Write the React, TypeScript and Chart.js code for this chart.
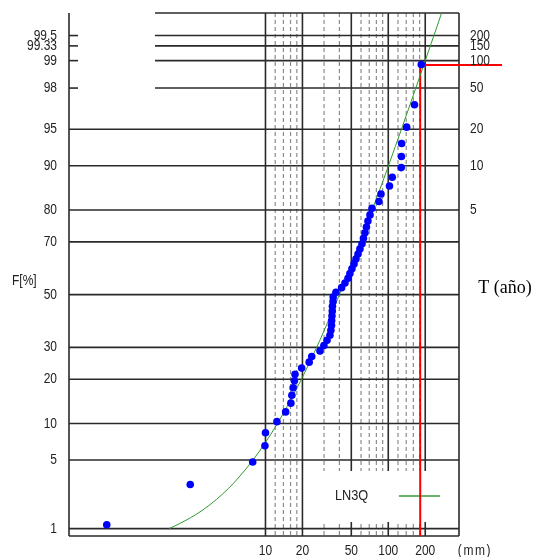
import { useEffect, useRef } from "react";
import { Chart, registerables } from "chart.js";
Chart.register(...registerables);

// Observed sample (mm) sorted, with plotted non-exceedance probability F [%]
const sampleMm = [0.51, 2.44, 7.87, 9.9, 10.0, 12.4, 14.6, 16.1, 16.4, 16.8, 17.2, 17.4, 19.7, 22.7, 23.8, 27.8, 29.9, 31.7, 33.5, 34.1, 34.5, 34.6, 34.8, 35.0, 35.1, 35.5, 35.6, 37.5, 41.7, 44.4, 47.0, 48.7, 50.6, 52.6, 54.6, 56.7, 58.8, 61.1, 62.8, 64.6, 66.4, 68.3, 71.0, 73.7, 84.0, 87.2, 102.3, 107.8, 127.5, 128.0, 128.5, 141.2, 163.5, 185.7];
const sampleF = [1.107, 2.952, 4.797, 6.642, 8.487, 10.332, 12.177, 14.022, 15.867, 17.712, 19.557, 21.402, 23.247, 25.092, 26.937, 28.782, 30.627, 32.472, 34.317, 36.162, 38.007, 39.852, 41.697, 43.542, 45.387, 47.232, 49.077, 50.923, 52.768, 54.613, 56.458, 58.303, 60.148, 61.993, 63.838, 65.683, 67.528, 69.373, 71.218, 73.063, 74.908, 76.753, 78.598, 80.443, 82.288, 84.133, 85.978, 87.823, 89.668, 91.513, 93.358, 95.203, 97.048, 98.893];

// LN3Q fitted curve
const curveMm = [1.64, 2, 3, 4, 5, 6, 8, 10, 12, 15, 20, 25, 30, 40, 50, 60, 80, 100, 130, 160, 200, 250, 280];
const curveF = [1.0, 1.14, 1.57, 2.09, 2.7, 3.41, 5.08, 7.08, 9.37, 13.27, 20.56, 28.29, 35.96, 50.0, 61.59, 70.68, 82.92, 89.91, 95.23, 97.63, 99.0, 99.62, 99.78];

// Axis ticks
const probTicks = [1, 5, 10, 20, 30, 50, 70, 80, 90, 95, 98, 99, 99.33, 99.5];
const probLabels = ["1", "5", "10", "20", "30", "50", "70", "80", "90", "95", "98", "99", "99.33", "99.5"];
const partialProb = [98, 99, 99.33, 99.5];
const returnPeriods = ["200", "150", "100", "50", "20", "10", "5"];
const returnF = [99.5, 99.33, 99, 98, 95, 90, 80];
const xMajor = [10, 20, 50, 100, 200];
const xMajorLabels = ["10", "20", "50", "100", "200"];
const xMinor = [12, 14, 16, 18, 30, 40, 60, 70, 80, 90, 120, 140, 160, 180];

// Design value marker (red)
const designMm = 182;
const designF = 98.88;

function normInv(p: number): number {
  const a = [-3.969683028665376e1, 2.209460984245205e2, -2.759285104469687e2, 1.38357751867269e2, -3.066479806614716e1, 2.506628277459239];
  const b = [-5.447609879822406e1, 1.615858368580409e2, -1.556989798598866e2, 6.680131188771972e1, -1.328068155288572e1];
  const c = [-7.784894002430293e-3, -3.223964580411365e-1, -2.400758277161838, -2.549732539343734, 4.374664141464968, 2.938163982698783];
  const d = [7.784695709041462e-3, 3.224671290700398e-1, 2.445134137142996, 3.754408661907416];
  const pl = 0.02425;
  if (p < pl) {
    const q = Math.sqrt(-2 * Math.log(p));
    return (((((c[0] * q + c[1]) * q + c[2]) * q + c[3]) * q + c[4]) * q + c[5]) / ((((d[0] * q + d[1]) * q + d[2]) * q + d[3]) * q + 1);
  }
  if (p <= 1 - pl) {
    const q = p - 0.5;
    const r = q * q;
    return ((((((a[0] * r + a[1]) * r + a[2]) * r + a[3]) * r + a[4]) * r + a[5]) * q) / (((((b[0] * r + b[1]) * r + b[2]) * r + b[3]) * r + b[4]) * r + 1);
  }
  const q = Math.sqrt(-2 * Math.log(1 - p));
  return -(((((c[0] * q + c[1]) * q + c[2]) * q + c[3]) * q + c[4]) * q + c[5]) / ((((d[0] * q + d[1]) * q + d[2]) * q + d[3]) * q + 1);
}
const zOf = (f: number) => normInv(f / 100);

function txt(ctx: CanvasRenderingContext2D, s: string, x: number, y: number, align: CanvasTextAlign, font: string, sx: number, color = "#222") {
  ctx.save();
  ctx.font = font;
  ctx.fillStyle = color;
  ctx.textBaseline = "middle";
  ctx.textAlign = align;
  ctx.translate(x, y);
  ctx.scale(sx, 1);
  ctx.fillText(s, 0, 0);
  ctx.restore();
}

const LABEL_FONT = '15px "Liberation Sans", Arial, sans-serif';

const paperPlugin = {
  id: "paper",
  beforeDatasetsDraw(chart: any) {
    const { ctx, chartArea: ca, scales } = chart;
    const px = (v: number) => scales.x.getPixelForValue(v);
    const py = (f: number) => scales.y.getPixelForValue(zOf(f));
    const line = (x1: number, y1: number, x2: number, y2: number) => {
      ctx.beginPath();
      ctx.moveTo(x1, y1);
      ctx.lineTo(x2, y2);
      ctx.stroke();
    };
    ctx.save();
    // minor verticals
    ctx.strokeStyle = "#8c8c8c";
    ctx.lineWidth = 1.2;
    ctx.setLineDash([4, 3]);
    xMinor.forEach((v) => line(px(v), ca.top, px(v), ca.bottom));
    ctx.setLineDash([]);
    // major verticals
    ctx.strokeStyle = "#2a2a2a";
    ctx.lineWidth = 1.6;
    xMajor.forEach((v) => line(px(v), ca.top, px(v), ca.bottom));
    // horizontals
    const partStart = px(1.26);
    probTicks.forEach((f) => {
      const y = py(f);
      if (partialProb.includes(f)) {
        line(ca.left, y, ca.left + 9, y);
        line(partStart, y, ca.right, y);
      } else {
        line(ca.left, y, ca.right, y);
      }
    });
    // borders
    line(partStart, ca.top, ca.right, ca.top);
    line(ca.left, ca.bottom, ca.right, ca.bottom);
    line(ca.left, ca.top, ca.left, ca.bottom);
    line(ca.right, ca.top, ca.right, ca.bottom);
    // legend box
    const lx = px(20) + 1.5;
    const ly = ca.bottom - 65;
    ctx.fillStyle = "#ffffff";
    ctx.fillRect(lx, ly, ca.right - 1 - lx, 51);
    txt(ctx, "LN3Q", lx + 31, ly + 25, "left", LABEL_FONT, 0.85);
    ctx.strokeStyle = "#3a9a3a";
    ctx.lineWidth = 1.5;
    line(lx + 95, ly + 25, lx + 136, ly + 25);
    // red design lines
    ctx.strokeStyle = "#ff0000";
    ctx.lineWidth = 2;
    const rx = px(designMm);
    const ry = py(designF);
    line(rx, ca.bottom, rx, ry);
    line(rx, ry, ca.right + 43, ry);
    ctx.restore();
  },
  afterDraw(chart: any) {
    const { ctx, chartArea: ca, scales } = chart;
    const px = (v: number) => scales.x.getPixelForValue(v);
    const py = (f: number) => scales.y.getPixelForValue(zOf(f));
    probTicks.forEach((f, i) => txt(ctx, probLabels[i], ca.left - 12, py(f), "right", LABEL_FONT, 0.8));
    returnF.forEach((f, i) => txt(ctx, returnPeriods[i], ca.right + 11, py(f), "left", LABEL_FONT, 0.8));
    xMajor.forEach((v, i) => txt(ctx, xMajorLabels[i], px(v), ca.bottom + 15, "center", LABEL_FONT, 0.8));
    ctx.save();
    (ctx as any).letterSpacing = "2px";
    txt(ctx, "(mm)", ca.right + 16, ca.bottom + 15, "center", LABEL_FONT, 0.8);
    ctx.restore();
    txt(ctx, "F[%]", 12, py(50) - 14, "left", LABEL_FONT, 0.8);
    txt(ctx, "T (año)", ca.right + 46, py(50) - 6, "center", '18px "Liberation Serif", "Times New Roman", serif', 1, "#000");
  },
};

export default function App() {
  const ref = useRef<HTMLCanvasElement | null>(null);
  useEffect(() => {
    document.body.style.margin = "0";
    if (!ref.current) return;
    const points = sampleMm.map((v, i) => ({ x: v, y: zOf(sampleF[i]) }));
    const curve = curveMm.map((v, i) => ({ x: v, y: zOf(curveF[i]) }));
    const chart = new Chart(ref.current, {
      type: "scatter",
      data: {
        datasets: [
          {
            label: "obs",
            data: points,
            backgroundColor: "#0000ff",
            borderColor: "#0000ff",
            borderWidth: 0,
            pointRadius: 3.8,
            pointStyle: "circle",
          },
          {
            label: "LN3Q",
            data: curve,
            showLine: true,
            borderColor: "#2e9a2e",
            borderWidth: 1,
            pointRadius: 0,
            cubicInterpolationMode: "monotone",
          } as any,
        ],
      },
      options: {
        animation: false,
        responsive: false,
        devicePixelRatio: 1,
        events: [],
        layout: { padding: { left: 69, right: 78, top: 13, bottom: 21 } },
        plugins: { legend: { display: false }, tooltip: { enabled: false } },
        scales: {
          x: { type: "logarithmic", min: Math.pow(10, -0.6), max: Math.pow(10, 2.576), display: false, bounds: "data" },
          y: { type: "linear", min: -2.4, max: 2.8, display: false, bounds: "data" },
        },
      },
      plugins: [paperPlugin],
    });
    return () => chart.destroy();
  }, []);
  return <canvas ref={ref} width={537} height={557} style={{ display: "block" }} />;
}
